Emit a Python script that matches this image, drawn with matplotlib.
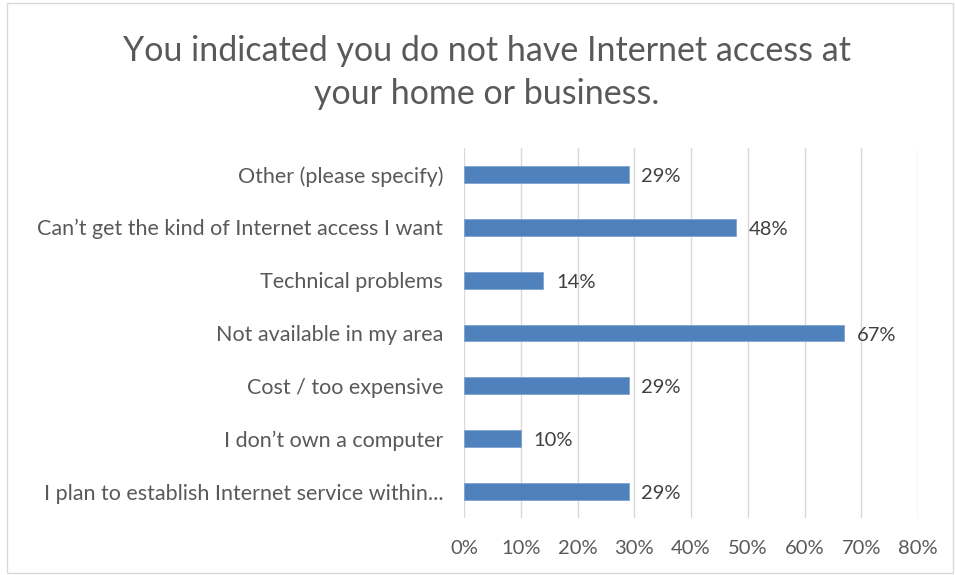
import matplotlib.pyplot as plt
from matplotlib.patches import Rectangle

# ─── data ─────────────────────────────────────
categories = [
    "I plan to establish Internet service within...",
    "I don\u2019t own a computer",
    "Cost / too expensive",
    "Not available in my area",
    "Technical problems",
    "Can\u2019t get the kind of Internet access I want",
    "Other (please specify)",
]
values = [0.29, 0.10, 0.29, 0.67, 0.14, 0.48, 0.29]
xticks = [0.0, 0.1, 0.2, 0.3, 0.4, 0.5, 0.6, 0.7, 0.8]
title = "You indicated you do not have Internet access at\nyour home or business."

plt.rcParams['font.family'] = ['Lato', 'DejaVu Sans']

fig = plt.figure(figsize=(9.56, 5.75), dpi=100)
fig.patch.set_facecolor('white')
# outer chart border
fig.patches.append(Rectangle((0.007, 0.003), 0.99, 0.992, transform=fig.transFigure,
                             fill=False, edgecolor='#D9D9D9', linewidth=1))

ax = fig.add_axes([0.4854, 0.0991, 0.4749, 0.6435])
y = list(range(len(categories)))
ax.barh(y, values, height=0.32, color='#4F81BD', edgecolor='#7FA3D0',
        linewidth=0.6, zorder=3)
for yi, v in zip(y, values):
    ax.text(v + 0.022, yi - 0.04, f"{round(v * 100)}%", va='center', ha='left',
            fontsize=14.5, color='#404040')

ax.set_xlim(0, 0.8)
ax.set_ylim(-0.5, len(categories) - 0.5)
ax.set_xticks(xticks)
ax.set_xticklabels([f"{round(t * 100)}%" for t in xticks], fontsize=14.5, color='#595959')
ax.set_yticks(y)
ax.set_yticklabels(categories, fontsize=15.5, color='#595959')
ax.tick_params(length=0)
ax.tick_params(axis='x', pad=16)
ax.tick_params(axis='y', pad=15)
ax.grid(axis='x', color='#D9D9D9', linewidth=1, zorder=0)
for s in ax.spines.values():
    s.set_visible(False)

fig.text(0.509, 0.874, title, ha='center', va='center', fontsize=24.5,
         color='#595959', linespacing=1.45)

plt.savefig('out.png', dpi=100, facecolor='white')
